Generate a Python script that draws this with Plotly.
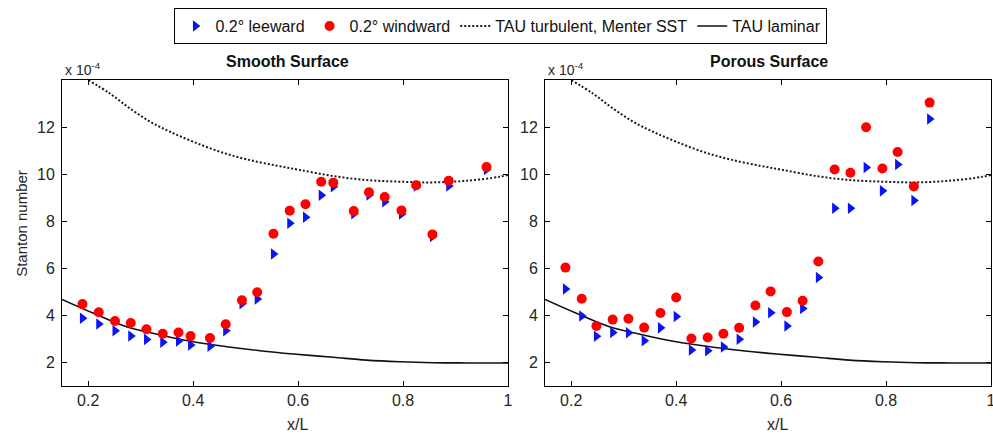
import plotly.graph_objects as go

# ---------------- data ----------------
# Smooth surface
smooth_x = [0.189, 0.220, 0.251, 0.281, 0.311, 0.342, 0.372, 0.395, 0.432, 0.462, 0.493, 0.522,
            0.553, 0.584, 0.614, 0.644, 0.667, 0.706, 0.735, 0.765, 0.797, 0.825, 0.856, 0.887, 0.959]
smooth_windward = [4.48, 4.13, 3.76, 3.68, 3.41, 3.22, 3.27, 3.12, 3.04, 3.62, 4.64, 4.98,
                   7.47, 8.45, 8.72, 9.68, 9.64, 8.43, 9.23, 9.03, 8.46, 9.53, 7.44, 9.72, 10.30]
smooth_leeward = [3.88, 3.63, 3.35, 3.12, 2.98, 2.86, 2.91, 2.74, 2.69, 3.35, 4.50, 4.70,
                  6.61, 7.91, 8.17, 9.10, 9.47, 8.32, 9.11, 8.83, 8.31, 9.50, 7.35, 9.50, 10.20]

# Porous surface
porous_x = [0.189, 0.220, 0.248, 0.279, 0.309, 0.339, 0.370, 0.400, 0.429, 0.460, 0.490, 0.520,
            0.551, 0.580, 0.611, 0.641, 0.671, 0.702, 0.732, 0.762, 0.793, 0.822, 0.853, 0.883]
porous_windward = [6.03, 4.71, 3.55, 3.82, 3.86, 3.48, 4.10, 4.76, 3.02, 3.06, 3.22, 3.47,
                   4.42, 5.02, 4.14, 4.62, 6.29, 10.20, 10.06, 11.99, 10.24, 10.94, 9.48, 13.04]
porous_leeward = [5.12, 3.97, 3.11, 3.27, 3.26, 2.92, 3.47, 3.95, 2.53, 2.50, 2.66, 2.99,
                  3.72, 4.11, 3.55, 4.29, 5.61, 8.55, 8.55, 10.28, 9.29, 10.41, 8.88, 12.34]

# TAU computations
turb_x = [0.200, 0.241, 0.279, 0.318, 0.356, 0.400, 0.451, 0.502, 0.559, 0.603, 0.667,
          0.730, 0.794, 0.857, 0.921, 0.984, 1.000]
turb_y = [14.00, 13.43, 12.80, 12.23, 11.80, 11.38, 10.95, 10.63, 10.36, 10.18, 9.92,
          9.75, 9.68, 9.65, 9.72, 9.89, 9.97]
lam_x = [0.150, 0.210, 0.273, 0.337, 0.400, 0.464, 0.527, 0.591, 0.667, 0.730, 0.794,
         0.857, 0.921, 1.000]
lam_y = [4.68, 4.09, 3.52, 3.17, 2.88, 2.67, 2.50, 2.36, 2.22, 2.10, 2.03, 1.99, 1.98, 1.98]

x_ticks = [0.2, 0.4, 0.6, 0.8, 1.0]
x_ticklabels = ["0.2", "0.4", "0.6", "0.8", "1"]
y_ticks = [2, 4, 6, 8, 10, 12]

FONT = "Liberation Sans, Arial, sans-serif"
BLUE = "#0a14f0"
RED = "#ff0000"
GREY = "#262626"

fig = go.Figure()

for i, (xa, ya, xs, wind, lee) in enumerate([
        ("x", "y", smooth_x, smooth_windward, smooth_leeward),
        ("x2", "y2", porous_x, porous_windward, porous_leeward)]):
    first = i == 0
    fig.add_trace(go.Scatter(x=turb_x, y=turb_y, mode="lines", xaxis=xa, yaxis=ya,
                             line=dict(color="#1a1a1a", width=2, dash="2px,2px", shape="spline"),
                             name="TAU turbulent, Menter SST", legendrank=3,
                             showlegend=first, legendgroup="t"))
    fig.add_trace(go.Scatter(x=lam_x, y=lam_y, mode="lines", xaxis=xa, yaxis=ya,
                             line=dict(color="#111111", width=1.6, shape="spline"),
                             name="TAU laminar", legendrank=4,
                             showlegend=first, legendgroup="l"))
    fig.add_trace(go.Scatter(x=xs, y=lee, mode="markers", xaxis=xa, yaxis=ya,
                             marker=dict(symbol="triangle-right", size=10, color=BLUE),
                             name="0.2° leeward", legendrank=1,
                             showlegend=first, legendgroup="lee"))
    fig.add_trace(go.Scatter(x=xs, y=wind, mode="markers", xaxis=xa, yaxis=ya,
                             marker=dict(symbol="circle", size=10, color=RED),
                             name="0.2° windward", legendrank=2,
                             showlegend=first, legendgroup="wind"))

axis_common = dict(showline=True, linecolor="black", linewidth=1, mirror="ticks",
                   ticks="inside", ticklen=5, tickcolor="black", tickwidth=1,
                   showgrid=False, zeroline=False, automargin=False,
                   ticklabeloverflow="allow",
                   tickfont=dict(family=FONT, size=16, color=GREY))

fig.update_layout(
    width=993, height=435,
    margin=dict(l=62, r=2, t=80, b=49, autoexpand=False),
    paper_bgcolor="white", plot_bgcolor="white",
    font=dict(family=FONT, size=16, color="#111111"),
    xaxis=dict(domain=[0, 0.4801], range=[0.15, 1.0], tickvals=x_ticks,
               ticktext=x_ticklabels, anchor="y", **axis_common),
    yaxis=dict(domain=[0, 1], range=[1, 14], tickvals=y_ticks, anchor="x",
               ticklabelstandoff=3, **axis_common),
    xaxis2=dict(domain=[0.5199, 1.0], range=[0.15, 1.0], tickvals=x_ticks,
                ticktext=x_ticklabels, anchor="y2", **axis_common),
    yaxis2=dict(domain=[0, 1], range=[1, 14], tickvals=y_ticks, anchor="x2",
                ticklabelstandoff=3, **axis_common),
    legend=dict(orientation="h", x=0.4725, xanchor="center", y=1.235, yanchor="top",
                bordercolor="black", borderwidth=1, bgcolor="white",
                font=dict(family=FONT, size=16, color="#111111"),
                traceorder="normal"),
    showlegend=True,
)

annotations = [
    dict(text="<b>Smooth Surface</b>", x=0.2422, y=1.062, font=dict(size=16)),
    dict(text="<b>Porous Surface</b>", x=0.761, y=1.062, font=dict(size=16)),
    dict(text="x 10<sup>-4</sup>", x=0.001, y=1.035, xanchor="left", font=dict(size=14, color=GREY)),
    dict(text="x 10<sup>-4</sup>", x=0.5205, y=1.035, xanchor="left", font=dict(size=14, color=GREY)),
    dict(text="x/L", x=0.2530, y=-0.127, font=dict(size=16, color=GREY)),
    dict(text="x/L", x=0.7706, y=-0.127, font=dict(size=16, color=GREY)),
    dict(text="Stanton number", x=-0.0430, y=0.53, textangle=-90, font=dict(size=15, color=GREY)),
]
for a in annotations:
    a.setdefault("xref", "paper")
    a.setdefault("yref", "paper")
    a.setdefault("showarrow", False)
    a.setdefault("xanchor", "center")
    a.setdefault("yanchor", "middle")
    a["font"].setdefault("family", FONT)
fig.update_layout(annotations=annotations)

fig.write_html(
    "out.html",
    config={"displayModeBar": False},
    post_script="document.body.style.margin='0';document.body.style.overflow='hidden';"
                "document.documentElement.style.overflow='hidden';",
)
